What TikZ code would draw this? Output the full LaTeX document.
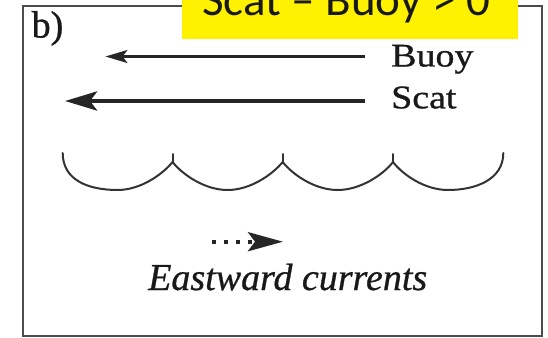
\documentclass[tikz,border=0pt]{standalone}
\usepackage{fontspec}
\setmainfont{Liberation Serif}[FakeBold=0.9]
\newfontfamily\calib{Carlito}
\newfontfamily\serifwide[FakeStretch=1.15,FakeBold=0.9]{Liberation Serif}
\newfontfamily\serifital[FakeBold=0.7]{Liberation Serif Italic}
\usetikzlibrary{arrows.meta}
\tikzset{
  frame/.style={draw=black!70, line width=2pt},
  label/.style={inner sep=0pt, anchor=base west, text=black!90},
  wave/.style={draw=black!80, line width=2pt, line cap=round, line join=round},
  flowarrow/.style={draw=black!85},
}
\begin{document}
\begin{tikzpicture}[x=1pt, y=-1pt]
\useasboundingbox (0,0) rectangle (548,337);
% frame
\draw[frame] (23,6) rectangle (542,336);
% yellow title box
\fill[yellow] (182,-2) rectangle (518,39);
\node[label] (title) at (202,15.5) {\calib\fontsize{47}{50}\selectfont Scat – Buoy > 0};
% panel label
\node[label] (panel) at (31.5,37.5) {\fontsize{38}{40}\selectfont b)};
% legend labels
\node[label] (buoy) at (391,66.5) {\serifwide\fontsize{33}{36}\selectfont Buoy};
\node[label] (scat) at (391,108.3) {\serifwide\fontsize{33}{36}\selectfont Scat};
\coordinate (buoyR) at (365,56.5);
\coordinate (buoyL) at (105.5,56.5);
\coordinate (scatR) at (365,101);
\coordinate (scatL) at (65,101);
\draw[flowarrow, line width=2.4pt, -{Stealth[length=22pt, width=13pt, inset=5pt]}] (buoyR) -- (buoyL);
\draw[flowarrow, line width=4.6pt, -{Stealth[length=32pt, width=19pt, inset=7pt]}] (scatR) -- (scatL);
% waves
\draw[wave] (62.7,153) .. controls (62.7,180) and (88,190) .. (117.6,190)
  .. controls (140,190) and (162,175) .. (172.5,162)
  .. controls (183,175) and (205,190) .. (227.6,190)
  .. controls (250,190) and (272,175) .. (282.7,162)
  .. controls (293,175) and (315,190) .. (337.8,190)
  .. controls (360,190) and (383,175) .. (393,162)
  .. controls (403,175) and (425,190) .. (448,190)
  .. controls (475,190) and (503.3,180) .. (503.3,153);
\draw[wave] (172.5,162) -- (172.5,154) (282.7,162) -- (282.7,154) (393,162) -- (393,154);
% eastward current arrow
\coordinate (curL) at (212,241.7);
\coordinate (curR) at (283,241.7);
\draw[flowarrow, line width=4pt, dash pattern=on 4pt off 8pt, -{Stealth[length=35pt, width=19pt, inset=7pt]}] (curL) -- (curR);
\node[label] (east) at (148,290) {\serifital\fontsize{38}{40}\selectfont Eastward currents};
\end{tikzpicture}
\end{document}
